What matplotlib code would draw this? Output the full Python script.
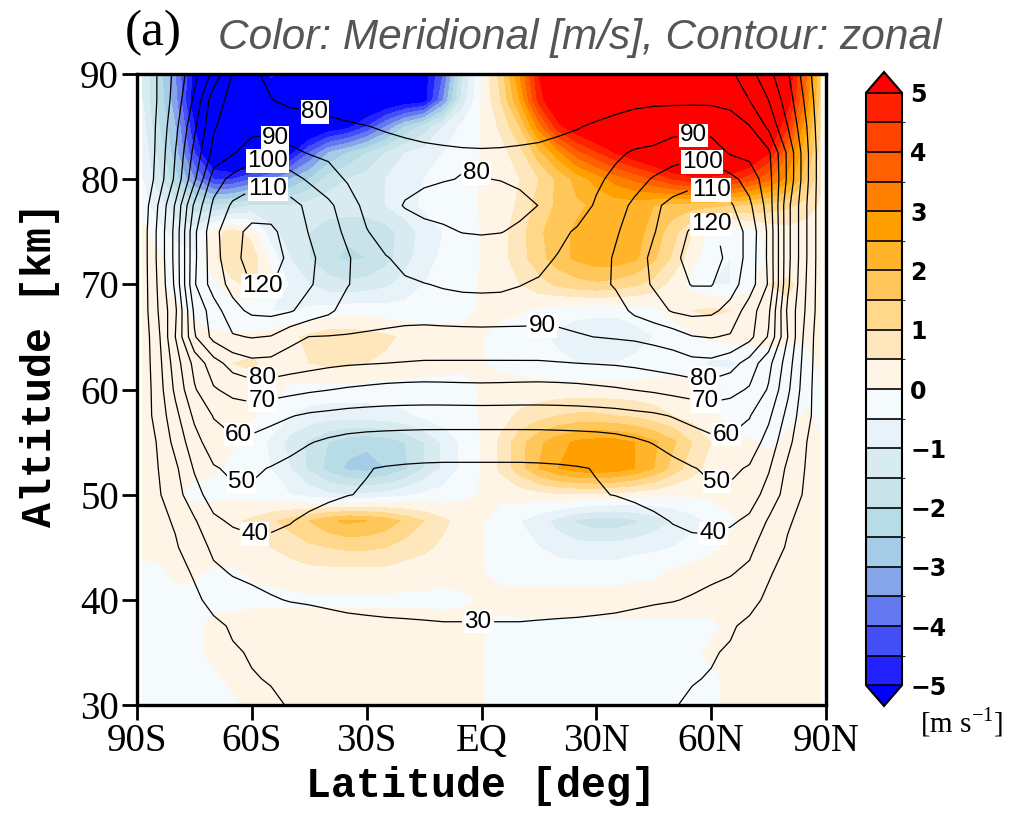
import numpy as np
import matplotlib
matplotlib.use("Agg")
import matplotlib.pyplot as plt
from matplotlib.colors import ListedColormap, BoundaryNorm

# ---------------- data ----------------
lat_south = [-88.5, -85, -80, -75, -70, -65, -60, -55, -50, -45, -40, -35, -30, -25, -20, -15, -10, -5, 0]
lat_north = [5, 10, 15, 20, 25, 30, 35, 40, 45, 50, 55, 60, 65, 70, 75, 80, 85, 88.5]
alt = [30, 32.5, 35, 37.5, 40, 42.5, 45, 47.5, 50, 52.5, 55, 57.5, 60,
       62.5, 65, 67.5, 70, 72.5, 75, 77.5, 80, 82.5, 85, 87.5, 90]

# zonal wind [m/s] (contours), rows = altitude
u_south = [
    [12, 13, 14, 16, 17, 18, 19, 19.5, 20.2, 21, 22, 22.5, 23, 23.5, 24, 24.5, 25, 25, 25],
    [12, 13, 15, 17, 18, 19, 19.8, 20.2, 21.5, 22.5, 23.5, 24.5, 25, 25.5, 26, 26.5, 27, 27, 27],
    [12, 14, 16, 17.5, 19, 19.6, 20.3, 22, 23.5, 24.5, 25.5, 26.5, 27, 27.5, 28, 28.3, 28.5, 28.5, 28.5],
    [12, 15, 17, 19, 19, 20.5, 22.5, 25, 26.5, 27.5, 28.5, 29, 29.3, 29.5, 29.6, 29.7, 29.8, 29.8, 29.8],
    [13, 16, 18.5, 19, 21.5, 26, 28, 29.5, 30.3, 30.6, 30.8, 31, 31, 31, 31, 31, 31, 31, 31],
    [13, 16, 18, 20.5, 28, 30.5, 31.5, 32, 32.2, 32.3, 32.3, 32.3, 32.3, 32.3, 32.3, 32.3, 32.3, 32.3, 32.3],
    [13, 16, 19, 25, 32, 35, 37, 37.5, 36.5, 35, 34, 33.5, 33.5, 33.5, 33.5, 33.5, 33.5, 33.5, 33.5],
    [13, 17, 21, 29, 38, 41.5, 43, 42, 40.5, 38, 36.5, 35.5, 35, 35, 35, 35, 35, 35, 35],
    [14, 18, 26, 36, 45, 48, 48.5, 47, 45.5, 43.5, 41.5, 40.2, 39.5, 38.5, 38, 37.5, 37, 37, 37],
    [14, 19, 28, 41, 49, 52, 51.5, 49.5, 47.5, 45, 43, 41.5, 40.3, 39.5, 39, 38.7, 38.5, 38.5, 38.5],
    [15, 20, 33, 46, 56, 58.5, 58, 56, 53, 50.5, 48.5, 47, 46.2, 45.7, 45.3, 45, 45, 45, 45],
    [16, 22, 37, 52, 60.5, 64, 64.5, 62.5, 60.5, 58.5, 57.5, 56.5, 56, 55.8, 55.7, 55.6, 55.5, 55.5, 55.5],
    [15, 23, 42, 59, 69, 73, 75, 74.5, 73, 71.5, 70.3, 69, 68, 67, 66.5, 66.3, 66.5, 66.8, 67],
    [15, 24, 45, 63, 76, 84, 87.5, 87, 85, 83.5, 82, 81, 80.5, 80, 79.5, 79, 79, 79, 79],
    [15, 25, 50, 79, 93, 99, 100.5, 99.5, 93, 89.8, 89.5, 89.3, 89.2, 88.8, 88.5, 88.3, 88.2, 88.2, 88.2],
    [15, 28, 48, 82, 95, 107, 112, 113, 111, 106, 102, 96, 93, 92.5, 92, 92, 92.5, 92.8, 93],
    [15, 29, 52, 89, 105, 113, 120.5, 120.5, 116, 111, 106, 100.5, 96, 93, 91, 90.2, 89.5, 88.8, 88.5],
    [15, 30, 53, 88, 106, 117, 124, 124, 118, 112, 106, 101, 95, 90.5, 88, 86.5, 85, 84, 83.5],
    [15, 30, 53, 88, 107, 117, 122.5, 122, 116, 109.5, 104, 98, 90.5, 86, 84, 82, 81, 79.8, 79.5],
    [14, 28, 51, 82, 102, 111.5, 115, 115, 113, 108, 102, 95, 87, 83, 79.5, 78, 77.5, 77.2, 77],
    [12, 22, 42, 68, 95, 103, 106.5, 107, 104, 98.5, 94, 89, 86, 84, 82, 81, 80.3, 79.8, 79.8],
    [12, 21, 40, 63, 83, 89, 96, 97, 92, 89.5, 88, 86, 84.5, 83, 82, 81.3, 81, 80.7, 80.6],
    [11.5, 20.5, 37, 58, 79, 85, 86, 86.5, 85, 84, 82, 81, 80.2, 79.2, 78.5, 78, 77.5, 77.2, 77],
    [11.5, 19.5, 34, 52, 76, 83, 83, 80.3, 78, 77.5, 77, 76, 75, 74.5, 74, 73.5, 73.5, 73.5, 73.5],
    [11.5, 19.5, 32.5, 47, 63, 80.5, 81.5, 78, 74, 73, 72.5, 72, 71.5, 71, 70.5, 70, 70, 70, 70],
]
u_north = [
    [25, 25, 24.5, 24, 23.5, 23, 22.5, 22, 21, 20.2, 19.5, 19, 18, 17, 16, 14, 13, 12],
    [27, 27, 26.5, 26, 25.5, 25, 24.5, 23.5, 22.5, 21.5, 20.2, 19.8, 19, 18, 17, 15, 13, 12],
    [28.5, 28.5, 28.3, 28, 27.5, 27, 26.5, 25.5, 24.5, 23.5, 22, 20.3, 19.6, 19, 17.5, 16, 14, 12],
    [29.8, 29.8, 29.7, 29.6, 29.5, 29.3, 29, 28.5, 27.5, 26.5, 25, 22.5, 20.5, 19, 19, 17, 15, 12],
    [31, 31, 31, 31, 31, 31, 31, 30.8, 30.6, 30.3, 29.5, 28, 26, 21.5, 19, 18.5, 16, 13],
    [32.3, 32.3, 32.3, 32.3, 32.3, 32.3, 32.3, 32.3, 32.3, 32.2, 32, 31.5, 30.5, 28, 20.5, 18, 16, 13],
    [33.5, 33.5, 33.5, 33.5, 33.5, 33.5, 33.5, 34, 35, 36.5, 37.5, 37, 35, 32, 25, 19, 16, 13],
    [35, 35, 35, 35, 35, 35, 35.5, 36.5, 38, 40.5, 42, 43, 41.5, 38, 29, 21, 17, 13],
    [37, 37, 37.5, 38, 38.5, 39.5, 40.2, 41.5, 43.5, 45.5, 47, 48.5, 48, 45, 36, 26, 18, 14],
    [38.5, 38.5, 38.7, 39, 39.5, 40.3, 41.5, 43, 45, 47.5, 49.5, 51.5, 52, 49, 41, 28, 19, 14],
    [45, 45, 45, 45.3, 45.7, 46.2, 47, 48.5, 50.5, 53, 56, 58, 58.5, 56, 46, 33, 20, 15],
    [55.5, 55.5, 55.6, 55.7, 55.8, 56, 56.5, 57.5, 58.5, 60.5, 62.5, 64.5, 64, 60.5, 52, 37, 22, 16],
    [66.8, 66.5, 66.3, 66.5, 67, 68, 69, 70.3, 71.5, 73, 74.5, 75, 73, 69, 59, 42, 23, 15],
    [79, 79, 79, 79.5, 80, 80.5, 81, 82, 83.5, 85, 87, 87.5, 84, 76, 63, 45, 24, 15],
    [88.2, 88.3, 88.5, 88.8, 89.5, 90.1, 90.8, 91.5, 93, 95, 99.5, 100.5, 99, 93, 79, 50, 25, 15],
    [92.8, 92.5, 92, 92, 92.5, 93, 96, 102, 106, 111, 113, 112, 107, 95, 82, 48, 28, 15],
    [88.8, 89.8, 90.8, 92, 94, 97, 101, 106, 111, 116, 120.5, 120.6, 114, 105, 89, 52, 29, 15],
    [84, 85.5, 88, 90.5, 93, 96, 101, 106, 112, 118, 123, 123, 118, 106, 88, 53, 30, 15],
    [79.8, 81, 84, 88, 91, 94, 99, 104, 109.5, 115, 121.5, 122, 116, 107, 88, 53, 30, 15],
    [77.2, 78.5, 80.1, 83, 86, 91, 96, 102, 108, 113, 115, 115, 111.5, 102, 86, 53, 30, 15],
    [80.2, 81, 82.5, 84.5, 86.5, 88.5, 92, 96, 101, 104, 107, 106.5, 103, 96, 84, 58, 32, 15],
    [80.7, 81, 81.3, 82, 83, 85, 88.5, 91, 92, 96, 97, 96, 89, 87, 82, 58, 32, 15],
    [77.2, 77.5, 78, 78.8, 79.6, 81, 82.5, 84, 85, 86, 86.5, 86, 85, 80.5, 68, 50, 30, 14],
    [73.5, 73.5, 74, 74.5, 75, 76, 77, 78, 78.5, 78.5, 78.5, 78.5, 77, 70, 60, 45, 27, 13],
    [70, 70, 70.5, 71, 71.5, 72, 72.5, 73, 73.5, 74, 74, 74, 72, 63.5, 53, 41, 24, 12],
]

# meridional wind [m/s] (colour), rows = altitude
v_south = [
    [-0.1, -0.1, -0.1, -0.1, -0.1, -0.1, 0.1, 0.2, 0.2, 0.2, 0.2, 0.2, 0.2, 0.2, 0.2, 0.2, 0.1, 0.1, 0.02],
    [-0.1, -0.1, -0.1, -0.1, -0.1, 0.1, 0.2, 0.2, 0.2, 0.2, 0.2, 0.2, 0.2, 0.2, 0.2, 0.2, 0.2, 0.1, 0.02],
    [-0.1, -0.1, -0.1, -0.1, 0.1, 0.2, 0.2, 0.2, 0.2, 0.2, 0.2, 0.2, 0.2, 0.2, 0.2, 0.2, 0.2, 0.1, 0.02],
    [-0.1, -0.1, -0.1, -0.1, 0.1, 0.1, 0.2, 0.2, 0.2, 0.2, 0.2, 0.2, 0.2, 0.2, 0.2, 0.2, 0.15, 0.1, 0.02],
    [-0.1, -0.1, -0.1, -0.1, -0.1, -0.1, -0.1, -0.1, -0.1, -0.1, -0.1, -0.1, -0.1, -0.1, -0.1, -0.1, -0.1, -0.05, 0.02],
    [-0.1, -0.1, 0.05, 0.05, -0.1, -0.1, 0.05, 0.1, 0.2, 0.3, 0.3, 0.3, 0.3, 0.3, 0.2, 0.2, 0.1, 0.1, 0.02],
    [0.1, 0.1, 0.2, 0.3, 0.3, 0.3, 0.4, 0.5, 0.7, 0.9, 1.0, 1.1, 1.1, 1.0, 0.8, 0.6, 0.4, 0.2, 0.02],
    [0.1, 0.1, 0.1, 0.2, 0.3, 0.4, 0.6, 0.9, 1.2, 1.5, 1.9, 2.1, 2.0, 1.8, 1.4, 1.0, 0.6, 0.3, 0.02],
    [0.1, 0.1, 0.05, -0.1, -0.1, -0.1, -0.2, -0.3, -0.5, -0.7, -0.9, -1.0, -0.9, -0.8, -0.6, -0.4, -0.3, -0.1, 0.02],
    [0.1, 0.1, 0.1, 0.1, 0.05, -0.1, -0.2, -0.5, -1.0, -1.6, -2.2, -2.6, -2.7, -2.5, -2.1, -1.5, -0.9, -0.4, 0.02],
    [0.1, 0.1, 0.2, 0.2, 0.1, 0.05, -0.2, -0.6, -1.2, -1.6, -2.0, -2.3, -2.4, -2.3, -2.0, -1.5, -0.9, -0.4, 0.02],
    [0.2, 0.2, 0.2, 0.2, 0.2, 0.1, 0.05, -0.2, -0.5, -0.7, -0.8, -0.8, -0.8, -0.7, -0.6, -0.4, -0.2, -0.1, 0.02],
    [0.2, 0.2, 0.2, 0.2, 0.2, 0.2, 0.2, 0.2, -0.1, -0.2, -0.2, -0.2, -0.2, -0.2, -0.2, -0.2, -0.1, -0.1, 0.02],
    [0.2, 0.3, 0.4, 0.4, 0.3, 0.5, 0.6, 0.3, 0.4, 0.5, 0.6, 0.6, 0.5, 0.4, 0.3, 0.2, 0.1, 0.05, 0.02],
    [0.2, 0.3, 0.3, 0.2, 0.1, 0.1, 0.1, 0.2, 0.4, 0.6, 0.8, 0.8, 0.7, 0.6, 0.4, 0.2, 0.1, 0.05, 0.02],
    [0.1, 0.2, 0.1, -0.1, -0.3, -0.4, -0.5, -0.5, -0.5, -0.4, -0.3, -0.2, -0.2, -0.3, -0.3, -0.2, -0.1, -0.05, 0.02],
    [0.1, 0.1, -0.2, -0.4, -0.1, 0.4, 0.6, 0.3, -0.6, -1.0, -1.3, -1.4, -1.3, -1.1, -0.8, -0.5, -0.3, -0.1, 0.02],
    [0.3, 0.2, -0.2, -0.4, 0.4, 0.9, 0.8, -0.2, -1.0, -1.5, -1.9, -2.1, -2.0, -1.7, -1.2, -0.7, -0.4, -0.2, 0.02],
    [0.2, -0.3, -0.7, -0.8, 0.3, 0.7, 0.3, -0.8, -1.3, -1.5, -1.8, -1.9, -1.9, -1.7, -1.3, -0.8, -0.5, -0.2, 0.02],
    [-0.3, -0.7, -1.3, -1.8, -2.0, -1.8, -1.5, -1.5, -1.5, -1.3, -1.2, -1.2, -1.2, -1.0, -0.7, -0.4, -0.2, -0.1, 0.02],
    [-0.5, -1.2, -2.3, -3.5, -4.5, -4.5, -4.0, -3.5, -3.0, -2.5, -1.8, -1.5, -1.3, -1.0, -0.8, -0.5, -0.3, -0.1, 0.02],
    [-0.6, -1.5, -2.8, -4.5, -6.0, -6.5, -6.5, -6.0, -5.2, -4.0, -3.0, -2.5, -2.0, -1.5, -1.0, -0.8, -0.5, -0.2, 0.02],
    [-0.8, -1.8, -3.0, -5.0, -6.5, -7.0, -7.0, -7.0, -6.5, -6.0, -5.5, -5.2, -4.5, -3.5, -2.5, -1.8, -1.0, -0.4, 0.02],
    [-1.0, -2.0, -3.3, -5.5, -6.5, -7.0, -7.0, -6.5, -6.5, -6.5, -6.5, -6.5, -6.0, -5.8, -5.5, -5.3, -3.5, -1.3, 0.02],
    [-1.0, -2.0, -3.5, -5.2, -6.0, -6.5, -5.5, -4.8, -5.3, -6.0, -6.5, -6.5, -6.0, -5.8, -5.5, -5.3, -4.0, -1.6, 0.02],
]
v_north = [
    [-0.1, -0.1, -0.1, -0.1, -0.1, -0.1, -0.1, -0.1, -0.1, -0.1, -0.1, -0.1, 0.1, 0.2, 0.2, 0.2, 0.2, 0.1],
    [-0.1, -0.1, -0.1, -0.1, -0.1, -0.1, -0.1, -0.1, -0.1, -0.1, -0.1, -0.1, 0.1, 0.2, 0.2, 0.2, 0.2, 0.1],
    [-0.1, -0.1, -0.1, -0.1, -0.1, -0.1, -0.1, -0.1, -0.1, -0.1, -0.1, 0.1, 0.2, 0.2, 0.2, 0.2, 0.2, 0.1],
    [-0.1, -0.1, -0.1, -0.1, -0.1, -0.1, -0.1, -0.1, -0.1, -0.1, -0.1, -0.1, 0.1, 0.2, 0.2, 0.2, 0.2, 0.1],
    [0.1, 0.2, 0.2, 0.2, 0.2, 0.2, 0.2, 0.2, 0.2, 0.2, 0.2, 0.2, 0.2, 0.2, 0.2, 0.2, 0.2, 0.1],
    [-0.1, -0.2, -0.2, -0.2, -0.2, -0.2, -0.2, -0.1, -0.1, 0.1, 0.2, 0.2, 0.2, 0.3, 0.3, 0.3, 0.2, 0.05],
    [-0.1, -0.3, -0.5, -0.7, -0.8, -0.8, -0.8, -0.7, -0.6, -0.5, -0.3, -0.1, 0.1, 0.2, 0.3, 0.3, 0.2, 0.05],
    [-0.2, -0.5, -0.8, -1.2, -1.6, -1.8, -1.8, -1.6, -1.3, -1.0, -0.7, -0.4, -0.1, 0.1, 0.2, 0.2, 0.1, 0.05],
    [0.1, 0.2, 0.3, 0.4, 0.4, 0.4, 0.3, 0.2, 0.1, 0.05, 0.05, 0.1, 0.2, 0.2, 0.2, 0.2, 0.1, 0.05],
    [0.6, 1.3, 2.0, 2.5, 2.8, 2.9, 2.8, 2.5, 2.0, 1.3, 0.7, 0.3, 0.2, 0.2, 0.2, 0.2, 0.1, 0.05],
    [0.6, 1.3, 1.9, 2.3, 2.6, 2.7, 2.7, 2.5, 2.1, 1.6, 1.0, 0.5, 0.2, 0.05, -0.1, 0.1, 0.1, 0.05],
    [0.3, 0.6, 0.8, 1.0, 1.1, 1.1, 1.0, 0.9, 0.7, 0.5, 0.3, 0.1, -0.2, -0.4, -0.3, -0.1, 0.05, -0.1],
    [0.2, 0.2, 0.2, 0.2, 0.2, 0.2, 0.2, 0.2, 0.2, 0.2, 0.2, 0.1, -0.1, -0.2, -0.3, -0.2, -0.1, -0.1],
    [-0.1, -0.2, -0.3, -0.4, -0.5, -0.5, -0.5, -0.4, -0.3, -0.2, -0.3, -0.6, -0.6, -0.4, -0.3, -0.2, -0.1, 0.05],
    [-0.1, -0.2, -0.4, -0.6, -0.7, -0.8, -0.8, -0.7, -0.5, -0.3, -0.1, 0.1, 0.2, 0.2, 0.2, 0.1, 0.05, 0.05],
    [0.05, 0.05, -0.1, -0.3, -0.4, -0.4, -0.4, -0.3, -0.2, 0.2, 0.5, 0.6, 0.5, 0.5, 0.5, 0.4, 0.3, 0.1],
    [0.2, 0.5, 0.8, 1.1, 1.3, 1.4, 1.3, 1.1, 0.8, 0.3, -0.2, -0.5, -0.5, -0.2, 0.5, 0.6, 0.3, 0.1],
    [0.3, 0.8, 1.3, 1.8, 2.1, 2.3, 2.3, 2.1, 1.6, 0.9, 0.2, -0.3, -0.5, -0.3, 0.05, 0.2, 0.2, 0.1],
    [0.3, 0.8, 1.4, 1.8, 2.1, 2.3, 2.4, 2.2, 1.8, 1.2, 0.5, -0.2, -0.4, -0.2, 0.1, 0.3, 0.2, 0.1],
    [0.2, 0.6, 1.2, 1.6, 1.9, 2.1, 2.2, 2.2, 2.0, 1.8, 1.7, 1.6, 1.5, 1.4, 1.3, 1.1, 0.8, 0.4],
    [0.2, 0.5, 1.0, 1.6, 2.2, 2.7, 3.2, 3.6, 4.0, 4.5, 4.8, 4.8, 4.6, 4.2, 3.6, 2.8, 1.5, 0.6],
    [0.3, 0.8, 1.8, 2.8, 3.8, 4.4, 5.0, 5.5, 6.0, 6.5, 6.5, 6.5, 6.5, 6.0, 5.0, 3.5, 2.0, 0.8],
    [0.6, 1.5, 3.2, 4.8, 5.5, 6.0, 6.5, 7.0, 7.0, 7.0, 7.0, 7.0, 7.0, 6.5, 5.8, 4.5, 2.5, 1.0],
    [1.0, 2.5, 4.7, 5.8, 6.5, 6.8, 7.0, 7.0, 7.0, 7.0, 7.0, 7.0, 7.0, 7.0, 6.5, 5.3, 3.2, 1.3],
    [1.2, 3.0, 5.0, 6.0, 6.5, 6.5, 6.5, 6.5, 6.5, 6.5, 6.5, 6.5, 6.5, 6.5, 6.2, 5.5, 3.5, 1.5],
]

color_levels = [-5, -4.5, -4, -3.5, -3, -2.5, -2, -1.5, -1, -0.5, 0,
                0.5, 1, 1.5, 2, 2.5, 3, 3.5, 4, 4.5, 5]
bin_colors = ["#2222FF", "#4450F5", "#6478F0", "#86A4E8", "#A4CCE6",
              "#B8DCE6", "#C8E3EA", "#D8EBF1", "#E7F3F8", "#F5FAFD",
              "#FFF5E6", "#FFE7BD", "#FFD88C", "#FFC75A", "#FFB42A",
              "#FFA000", "#FF8000", "#FF6000", "#FF4400", "#FF2200"]
under_color = "#0000FF"
over_color = "#FF0000"
contour_levels = [10, 20, 30, 40, 50, 60, 70, 80, 90, 100, 110, 120, 130]
label_positions = [(-43.5, 86.4), (-54.7, 83.4), (-55.8, 81.4), (-55.8, 79.2),
                   (-57.3, 69.3), (-57.3, 61.2), (-57.3, 59.0), (-63.6, 56.6),
                   (-62.7, 51.7), (-59.2, 46.4), (-1.2, 80.1), (16.1, 66.6),
                   (-0.9, 37.6), (55.2, 83.4), (57.6, 81.3), (60.2, 79.2),
                   (61.5, 76.5), (58.1, 61.2), (58.6, 59.0), (64.1, 56.6),
                   (61.5, 51.7), (60.5, 46.4)]
xtick_vals = [-90, -60, -30, 0, 30, 60, 90]
xtick_labels = ["90S", "60S", "30S", "EQ", "30N", "60N", "90N"]
ytick_vals = [30, 40, 50, 60, 70, 80, 90]
cbar_ticks = [-5, -4, -3, -2, -1, 0, 1, 2, 3, 4, 5]

# ---------------- plotting ----------------
lat = np.array(lat_south + lat_north)
z = np.array(alt)
U = np.hstack([np.array(u_south), np.array(u_north)])
V = np.hstack([np.array(v_south), np.array(v_north)])

fig = plt.figure(figsize=(10.16, 8.17), dpi=100)
ax = fig.add_axes([137 / 1016, 1 - 705 / 817, 689 / 1016, 631 / 817])

cmap = ListedColormap(bin_colors)
cmap.set_under(under_color)
cmap.set_over(over_color)
norm = BoundaryNorm(color_levels, cmap.N)

cf = ax.contourf(lat, z, V, levels=color_levels, cmap=cmap, norm=norm, extend="both")
cs = ax.contour(lat, z, U, levels=contour_levels, colors="black", linewidths=0.9)
labels = ax.clabel(cs, fmt="%d", fontsize=17.5, inline=True, inline_spacing=1,
                   manual=label_positions)
for t in labels:
    t.set_rotation(0)
    t.set_fontfamily("Liberation Sans")
    t.set_bbox(dict(facecolor="white", edgecolor="none", pad=0.5))

ax.set_xlim(-90, 90)
ax.set_ylim(30, 90)
ax.set_xticks(xtick_vals)
ax.set_xticklabels(xtick_labels)
ax.set_yticks(ytick_vals)
for s in ax.spines.values():
    s.set_linewidth(2.4)
ax.tick_params(axis="both", direction="out", length=11, width=2, pad=2,
               top=False, right=False)
for lab in ax.get_xticklabels() + ax.get_yticklabels():
    lab.set_fontfamily("Liberation Serif")
    lab.set_fontsize(28)
ax.set_xlabel("Latitude [deg]", fontfamily="Liberation Mono", fontweight="bold",
              fontsize=30, labelpad=4)
ax.set_ylabel("Altitude [km]", fontfamily="Liberation Mono", fontweight="bold",
              fontsize=30)
ax.yaxis.set_label_coords(-0.112, 0.54)

fig.text(125 / 1016, 1 - 33 / 817, "(a)", fontfamily="Liberation Serif",
         fontsize=37, va="center", ha="left")
fig.text(218 / 1016, 1 - 38 / 817, "Color: Meridional [m/s], Contour: zonal",
         fontfamily="Liberation Sans", fontstyle="italic", fontsize=30.5,
         color="#555555", va="center", ha="left")

cax = fig.add_axes([866 / 1016, 1 - 706 / 817, 36 / 1016, 634 / 817])
cb = fig.colorbar(cf, cax=cax, extend="both", extendfrac=0.035, drawedges=True,
                  ticks=cbar_ticks)
cb.outline.set_linewidth(1.5)
cb.dividers.set_color("black")
cb.dividers.set_linewidth(1.2)
cax.tick_params(length=0, pad=6)
for lab in cax.get_yticklabels():
    lab.set_fontfamily("DejaVu Sans")
    lab.set_fontweight("bold")
    lab.set_fontsize(17)
fig.text(920 / 1016, 1 - 722 / 817, r"[m s$^{\mathregular{-1}}$]",
         fontfamily="Liberation Serif", fontsize=21, va="center", ha="left")

fig.savefig("out.png", dpi=100)
